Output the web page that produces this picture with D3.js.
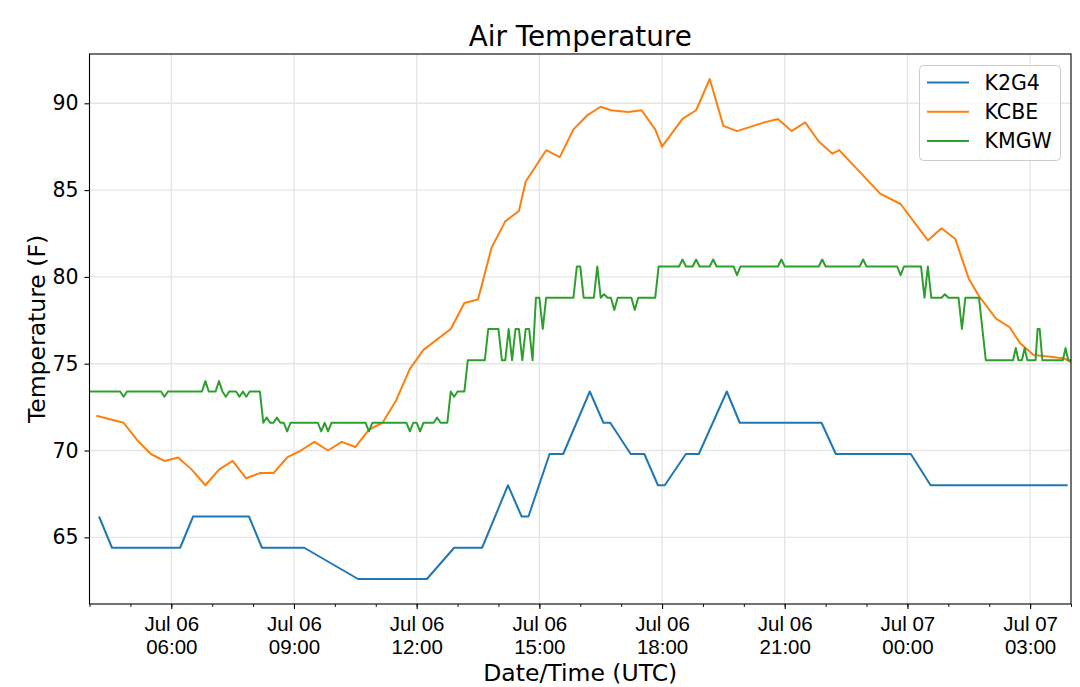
<!DOCTYPE html>
<html>
<head>
<meta charset="utf-8">
<script src="https://cdn.jsdelivr.net/npm/d3@7"></script>
<style>
  body { margin: 0; background: #fff; }
  svg { font-family: "DejaVu Sans", sans-serif; }
</style>
</head>
<body>
<div id="chart"></div>
<script>
// station names in legend order
const stations = ["K2G4", "KCBE", "KMGW"];

// K2G4 observations (day hour:min, UTC, July) and temperatures (F)
const k2g4Times = ["06 04:14", "06 04:33", "06 06:13", "06 06:32", "06 07:54", "06 08:13", "06 09:15",
  "06 10:34", "06 12:15", "06 12:55", "06 13:36", "06 14:14", "06 14:34", "06 14:44", "06 15:15",
  "06 15:35", "06 16:14", "06 16:34", "06 16:44", "06 17:14", "06 17:34", "06 17:54", "06 18:04",
  "06 18:35", "06 18:54", "06 19:35", "06 19:54", "06 21:54", "06 22:15", "07 00:05", "07 00:34", "07 03:55"];
const k2g4Temps = [66.2, 64.4, 64.4, 66.2, 66.2, 64.4, 64.4,
  62.6, 62.6, 64.4, 64.4, 68.0, 66.2, 66.2, 69.8,
  69.8, 73.4, 71.6, 71.6, 69.8, 69.8, 68.0, 68.0,
  69.8, 69.8, 73.4, 71.6, 71.6, 69.8, 69.8, 68.0, 68.0];

// KCBE
const kcbeTimes = ["06 04:10", "06 04:50", "06 05:10", "06 05:30", "06 05:50", "06 06:10", "06 06:30",
  "06 06:50", "06 07:10", "06 07:30", "06 07:50", "06 08:10", "06 08:30", "06 08:50", "06 09:10",
  "06 09:30", "06 09:50", "06 10:10", "06 10:30", "06 10:50", "06 11:10", "06 11:30", "06 11:50",
  "06 12:10", "06 12:50", "06 13:10", "06 13:30", "06 13:50", "06 14:10", "06 14:30", "06 14:40",
  "06 15:10", "06 15:30", "06 15:50", "06 16:10", "06 16:30", "06 16:45", "06 17:10", "06 17:30",
  "06 17:50", "06 18:00", "06 18:30", "06 18:50", "06 19:10", "06 19:30", "06 19:50", "06 20:30",
  "06 20:50", "06 21:10", "06 21:30", "06 21:50", "06 22:10", "06 22:20", "06 23:20", "06 23:50",
  "07 00:30", "07 00:50", "07 01:10", "07 01:30", "07 01:45", "07 02:10", "07 02:30", "07 02:45",
  "07 03:05", "07 03:30", "07 03:50", "07 04:00"];
const kcbeTemps = [72.0, 71.6, 70.6, 69.8, 69.4, 69.6, 68.9,
  68.0, 68.9, 69.4, 68.4, 68.7, 68.7, 69.6, 70.0,
  70.5, 70.0, 70.5, 70.2, 71.2, 71.6, 72.9, 74.7,
  75.8, 77.0, 78.5, 78.7, 81.7, 83.2, 83.8, 85.5,
  87.3, 86.9, 88.5, 89.3, 89.8, 89.6, 89.5, 89.6,
  88.5, 87.5, 89.1, 89.6, 91.4, 88.7, 88.4, 88.9,
  89.1, 88.4, 88.9, 87.8, 87.1, 87.3, 84.8, 84.2,
  82.1, 82.8, 82.2, 79.9, 78.9, 77.6, 77.1, 76.2,
  75.5, 75.4, 75.3, 75.1];

// KMGW
const kmgwTimes = ["06 04:00", "06 04:45", "06 04:50", "06 04:55", "06 05:45", "06 05:50", "06 05:55",
  "06 06:45", "06 06:50", "06 06:55", "06 07:05", "06 07:10", "06 07:15", "06 07:20", "06 07:25",
  "06 07:35", "06 07:40", "06 07:45", "06 07:50", "06 07:55", "06 08:10", "06 08:15", "06 08:20",
  "06 08:25", "06 08:30", "06 08:35", "06 08:40", "06 08:45", "06 08:50", "06 08:55", "06 09:35",
  "06 09:40", "06 09:45", "06 09:50", "06 09:55", "06 10:45", "06 10:50", "06 10:55", "06 11:45",
  "06 11:50", "06 11:55", "06 12:00", "06 12:05", "06 12:10", "06 12:25", "06 12:30", "06 12:35",
  "06 12:45", "06 12:50", "06 12:55", "06 13:00", "06 13:10", "06 13:15", "06 13:40", "06 13:45",
  "06 14:00", "06 14:05", "06 14:10", "06 14:15", "06 14:20", "06 14:25", "06 14:30", "06 14:35",
  "06 14:40", "06 14:45", "06 14:50", "06 14:55", "06 15:00", "06 15:05", "06 15:10", "06 15:50",
  "06 15:55", "06 16:00", "06 16:05", "06 16:20", "06 16:25", "06 16:30", "06 16:35", "06 16:40",
  "06 16:45", "06 16:50", "06 16:55", "06 17:15", "06 17:20", "06 17:25", "06 17:50", "06 17:55",
  "06 18:25", "06 18:30", "06 18:35", "06 18:45", "06 18:50", "06 18:55", "06 19:10", "06 19:15",
  "06 19:20", "06 19:45", "06 19:50", "06 19:55", "06 20:50", "06 20:55", "06 21:00", "06 21:50",
  "06 21:55", "06 22:00", "06 22:50", "06 22:55", "06 23:00", "06 23:45", "06 23:50", "06 23:55",
  "07 00:20", "07 00:25", "07 00:30", "07 00:35", "07 00:50", "07 00:55", "07 01:00", "07 01:15",
  "07 01:20", "07 01:25", "07 01:45", "07 01:50", "07 01:55", "07 02:35", "07 02:39", "07 02:43",
  "07 02:48", "07 02:52", "07 02:56", "07 03:08", "07 03:11", "07 03:14", "07 03:18", "07 03:48",
  "07 03:52", "07 03:56", "07 04:00"];
const kmgwTemps = [73.4, 73.4, 73.1, 73.4, 73.4, 73.1, 73.4,
  73.4, 74.0, 73.4, 73.4, 74.0, 73.4, 73.1, 73.4,
  73.4, 73.1, 73.4, 73.1, 73.4, 73.4, 71.6, 71.9,
  71.6, 71.6, 71.9, 71.6, 71.6, 71.1, 71.6, 71.6,
  71.1, 71.6, 71.1, 71.6, 71.6, 71.1, 71.6, 71.6,
  71.1, 71.6, 71.6, 71.1, 71.6, 71.6, 71.9, 71.6,
  71.6, 73.4, 73.1, 73.4, 73.4, 75.2, 75.2, 77.0,
  77.0, 75.2, 75.2, 77.0, 75.2, 77.0, 77.0, 75.2,
  77.0, 77.0, 75.2, 78.8, 78.8, 77.0, 78.8, 78.8,
  80.6, 80.6, 78.8, 78.8, 80.6, 78.8, 79.0, 78.8,
  78.8, 78.1, 78.8, 78.8, 78.1, 78.8, 78.8, 80.6,
  80.6, 81.0, 80.6, 80.6, 81.0, 80.6, 80.6, 81.0,
  80.6, 80.6, 80.1, 80.6, 80.6, 81.0, 80.6, 80.6,
  81.0, 80.6, 80.6, 81.0, 80.6, 80.6, 80.1, 80.6,
  80.6, 78.8, 80.6, 78.8, 78.8, 79.0, 78.8, 78.8,
  77.0, 78.8, 78.8, 77.0, 75.2, 75.2, 75.9, 75.2,
  75.2, 75.9, 75.2, 75.2, 77.0, 77.0, 75.2, 75.2,
  75.9, 75.2, 75.2];

const yTicks = [65, 70, 75, 80, 85, 90];

const width = 1080, height = 687;
const margin = {top: 54, right: 9, bottom: 83, left: 89.5};
const colors = ["#1f77b4", "#ff7f0e", "#2ca02c"];

const parseTime = d3.utcParse("%Y-%m-%d %H:%M");
const toPoints = (times, temps) => times.map((t, i) => ({date: parseTime("2019-07-" + t), temp: temps[i]}));
const series = [toPoints(k2g4Times, k2g4Temps), toPoints(kcbeTimes, kcbeTemps), toPoints(kmgwTimes, kmgwTemps)];

const svg = d3.select("#chart").append("svg")
  .attr("width", width)
  .attr("height", height);

const x = d3.scaleUtc()
  .domain([parseTime("2019-07-06 04:00"), parseTime("2019-07-07 04:00")])
  .range([margin.left, width - margin.right]);

// matplotlib style 5% margins around the data range
const allTemps = k2g4Temps.concat(kcbeTemps, kmgwTemps);
const tMin = d3.min(allTemps), tMax = d3.max(allTemps);
const pad = (tMax - tMin) * 0.05;
const y = d3.scaleLinear()
  .domain([tMin - pad, tMax + pad])
  .range([height - margin.bottom, margin.top]);

const majorTicks = x.ticks(d3.utcHour.every(3)).filter(d => d.getUTCHours() % 3 === 0);
const minorTicks = x.ticks(d3.utcHour.every(1));

// grid
svg.append("g")
  .selectAll("line.vgrid")
  .data(majorTicks)
  .join("line")
  .attr("x1", d => x(d)).attr("x2", d => x(d))
  .attr("y1", margin.top).attr("y2", height - margin.bottom)
  .attr("stroke", "#e6e6e6").attr("stroke-width", 1.4);

svg.append("g")
  .selectAll("line.hgrid")
  .data(yTicks)
  .join("line")
  .attr("x1", margin.left).attr("x2", width - margin.right)
  .attr("y1", d => y(d)).attr("y2", d => y(d))
  .attr("stroke", "#e6e6e6").attr("stroke-width", 1.4);

// lines
svg.append("clipPath").attr("id", "clip")
  .append("rect")
  .attr("x", margin.left).attr("y", margin.top)
  .attr("width", width - margin.left - margin.right)
  .attr("height", height - margin.top - margin.bottom);

const line = d3.line()
  .x(d => x(d.date))
  .y(d => y(d.temp));

svg.append("g")
  .attr("clip-path", "url(#clip)")
  .selectAll("path")
  .data(series)
  .join("path")
  .attr("fill", "none")
  .attr("stroke", (d, i) => colors[i])
  .attr("stroke-width", 2)
  .attr("stroke-linejoin", "round")
  .attr("d", line);

// x axis: minor ticks then major ticks with two-line labels
svg.append("g")
  .attr("transform", `translate(0,${height - margin.bottom})`)
  .call(d3.axisBottom(x).tickValues(minorTicks).tickSize(3).tickFormat(""))
  .call(g => g.select(".domain").remove())
  .call(g => g.selectAll("line").attr("stroke", "#000").attr("stroke-width", 0.9));

const xAxis = svg.append("g")
  .attr("transform", `translate(0,${height - margin.bottom})`)
  .call(d3.axisBottom(x).tickValues(majorTicks).tickSize(5).tickFormat(""));
xAxis.select(".domain").remove();
xAxis.selectAll("line").attr("stroke", "#000").attr("stroke-width", 1.1);
xAxis.selectAll(".tick").append("text")
  .attr("fill", "#000")
  .attr("font-size", 20.5)
  .attr("text-anchor", "middle")
  .each(function (d) {
    const t = d3.select(this);
    t.append("tspan").attr("x", 0).attr("y", 27).text(d3.utcFormat("%b %d")(d));
    t.append("tspan").attr("x", 0).attr("y", 50).text(d3.utcFormat("%H:%M")(d));
  });

// y axis
const yAxis = svg.append("g")
  .attr("transform", `translate(${margin.left},0)`)
  .call(d3.axisLeft(y).tickValues(yTicks).tickSize(5).tickPadding(6));
yAxis.select(".domain").remove();
yAxis.selectAll("line").attr("stroke", "#000").attr("stroke-width", 1.1);
yAxis.selectAll("text").attr("font-size", 20.5).attr("fill", "#000").attr("font-family", "DejaVu Sans");

// spines
svg.append("rect")
  .attr("x", margin.left).attr("y", margin.top)
  .attr("width", width - margin.left - margin.right)
  .attr("height", height - margin.top - margin.bottom)
  .attr("fill", "none").attr("stroke", "#000").attr("stroke-width", 1.1);

// title and labels
svg.append("text")
  .attr("x", (margin.left + width - margin.right) / 2)
  .attr("y", 46)
  .attr("text-anchor", "middle")
  .attr("font-size", 27.8)
  .text("Air Temperature");

svg.append("text")
  .attr("x", (margin.left + width - margin.right) / 2)
  .attr("y", 681)
  .attr("text-anchor", "middle")
  .attr("font-size", 23.5)
  .text("Date/Time (UTC)");

svg.append("text")
  .attr("transform", `translate(45,${(margin.top + height - margin.bottom) / 2}) rotate(-90)`)
  .attr("text-anchor", "middle")
  .attr("font-size", 23.5)
  .text("Temperature (F)");

// legend
const legend = svg.append("g").attr("transform", "translate(919.5,65.5)");
legend.append("rect")
  .attr("width", 141).attr("height", 95).attr("rx", 4)
  .attr("fill", "#fff").attr("fill-opacity", 0.8)
  .attr("stroke", "#cccccc").attr("stroke-width", 1);

const entry = legend.selectAll("g.entry")
  .data(stations)
  .join("g")
  .attr("transform", (d, i) => `translate(0,${17 + i * 29.2})`);
entry.append("line")
  .attr("x1", 7.5).attr("x2", 49.5)
  .attr("stroke", (d, i) => colors[i]).attr("stroke-width", 2);
entry.append("text")
  .attr("x", 65).attr("y", 7)
  .attr("font-size", 20.5)
  .text(d => d);
</script>
</body>
</html>
